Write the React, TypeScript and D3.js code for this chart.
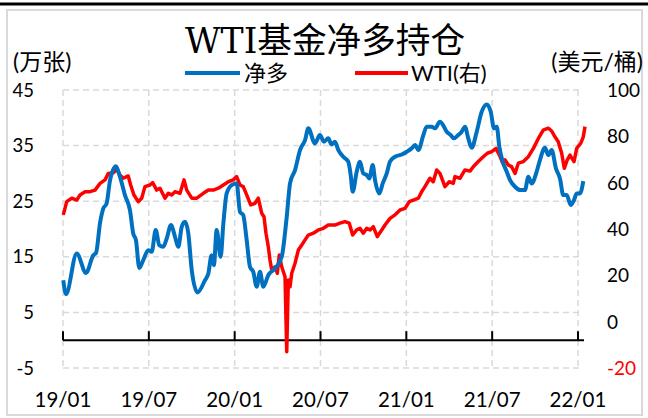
import React from "react";
import * as d3 from "d3";

// x values are months since 2019-01 (0 = 19/01, 36 = 22/01)
const tickLabels = ["19/01", "19/07", "20/01", "20/07", "21/01", "21/07", "22/01"];
const tickMonths = [0, 6, 12, 18, 24, 30, 36];

const netLongT = [0.02,0.21,0.96,1.61,2.12,2.31,2.59,2.82,3.05,3.29,3.7,3.98,4.33,4.68,4.91,5.1,5.33,5.61,5.96,6.2,6.48,6.73,7.01,7.25,7.55,7.83,8.06,8.3,8.53,8.76,9.0,9.4,9.93,10.16,10.39,10.55,10.74,11.02,11.21,11.44,11.79,12.14,12.37,12.6,12.84,13.07,13.3,13.54,13.77,14.0,14.35,14.82,15.29,15.64,15.87,16.22,16.57,16.92,17.15,17.61,17.96,18.24,18.54,18.78,19.01,19.25,19.59,19.94,20.11,20.25,20.53,20.76,20.99,21.23,21.41,21.65,21.81,22.11,22.35,22.63,22.86,23.21,23.68,24.03,24.37,24.61,24.84,25.19,25.42,25.77,26.0,26.35,26.63,26.82,27.1,27.33,27.63,27.87,28.1,28.33,28.57,28.92,29.27,29.62,29.9,30.13,30.32,30.5,30.74,31.02,31.25,31.6,31.95,32.29,32.53,32.76,33.11,33.34,33.69,33.92,34.16,34.46,34.74,34.97,35.21,35.49,35.72,35.91,36.14,36.37];
const netLong = [10.8,8.3,15.6,12.1,15.3,15.7,21.1,23.7,24.6,28.8,31.3,29.4,26.1,23.4,19.2,18.0,13.0,14.4,16.2,15.9,19.8,17.1,16.8,18.3,20.7,18.6,16.8,20.4,21.3,19.2,12.6,8.6,10.8,12.0,15.3,13.5,19.8,15.0,21.0,26.4,27.9,28.2,23.1,22.5,18.0,13.2,12.3,9.6,12.3,9.6,11.7,12.9,15.0,22.2,28.2,30.6,34.2,36.0,38.1,35.4,36.9,35.7,36.3,35.2,35.7,34.2,33.0,32.1,29.7,26.7,30.3,32.1,30.0,29.7,29.1,31.5,28.8,26.4,28.2,30.0,32.1,33.0,33.4,33.9,34.5,35.1,34.2,36.9,38.4,38.4,38.1,39.3,38.4,37.5,36.9,36.3,36.9,37.5,38.4,36.3,34.6,37.5,41.1,42.4,41.1,38.1,38.4,34.8,32.1,30.3,28.8,27.6,27.0,27.0,29.4,28.2,30.3,32.4,34.6,33.3,34.2,30.9,29.1,26.1,26.1,24.3,25.2,26.4,26.4,28.6];

const wtiT = [0.02,0.26,0.61,0.96,1.19,1.54,1.89,2.24,2.59,2.94,3.17,3.52,3.75,3.98,4.21,4.56,4.73,4.96,5.26,5.5,5.73,6.08,6.27,6.55,6.78,7.13,7.36,7.6,7.83,8.18,8.46,8.65,9.0,9.35,9.81,10.16,10.51,10.86,11.21,11.56,11.9,12.14,12.37,12.6,12.84,13.12,13.42,13.65,13.89,14.05,14.19,14.35,14.47,14.59,14.82,14.98,15.12,15.29,15.52,15.64,15.75,15.87,15.99,16.22,16.45,16.69,16.92,17.15,17.5,17.85,18.2,18.54,19.01,19.36,19.71,20.01,20.25,20.53,20.76,20.99,21.23,21.46,21.69,21.97,22.28,22.51,22.86,23.21,23.56,23.91,24.21,24.49,24.84,25.07,25.3,25.65,25.88,26.12,26.35,26.7,27.0,27.28,27.4,27.75,28.1,28.45,28.68,29.03,29.38,29.66,29.97,30.27,30.5,30.74,30.9,31.13,31.36,31.6,31.83,32.18,32.53,32.88,33.23,33.57,33.92,34.16,34.39,34.62,34.86,35.04,35.25,35.44,35.72,35.91,36.19,36.37,36.49];
const wti = [46.1,51.8,53.3,52.5,54.7,56.1,56.1,56.8,59.7,61.2,64.0,64.3,65.8,63.3,61.9,62.9,59.0,54.7,51.8,53.3,58.3,59.0,60.0,56.8,57.6,53.3,55.4,54.7,56.1,55.4,61.2,56.8,53.3,53.3,55.4,56.8,56.8,57.6,59.0,60.4,61.2,62.6,59.0,58.3,54.7,50.4,51.1,53.3,46.8,45.3,38.2,32.4,26.6,22.3,23.7,20.9,28.8,23.7,19.4,-13.0,18.0,15.1,20.9,25.2,30.9,33.1,35.3,37.4,38.2,39.6,40.3,41.7,41.7,42.5,43.2,42.5,37.4,39.6,40.3,38.2,40.3,39.6,41.0,36.7,39.6,41.7,44.6,46.1,48.2,48.9,51.8,52.5,53.3,56.1,58.3,61.9,60.4,65.5,64.0,58.3,60.4,59.7,62.6,61.9,65.5,65.0,66.9,69.1,71.2,72.7,73.4,74.8,72.0,68.4,69.8,67.6,66.9,64.0,68.4,69.1,71.2,74.8,79.1,82.7,83.5,82.3,79.8,77.7,72.7,66.2,69.8,71.9,69.1,74.8,77.0,79.8,84.2];

const leftTicks = [45, 35, 25, 15, 5, -5];
const rightTicks = [100, 80, 60, 40, 20, 0, -20];

export default function App() {
  const width = 648;
  const height = 418;
  const x = d3.scaleLinear().domain([0, 36]).range([63, 578]);
  const yL = d3.scaleLinear().domain([-5, 45]).range([368, 90]);
  const yR = d3.scaleLinear().domain([-20, 100]).range([368, 90]);

  const blueLine = d3.line<number>()
    .x((_, i) => x(netLongT[i]))
    .y((d) => yL(d))
    .curve(d3.curveMonotoneX);
  const redLine = d3.line<number>()
    .x((_, i) => x(wtiT[i]))
    .y((d) => yR(d));

  const font = "Lato, 'Noto Sans CJK SC', sans-serif";
  const grid = "#D9D9D9";

  return (
    <svg width={width} height={height} style={{ position: "absolute", left: 0, top: 0, background: "#fff" }}>
      <rect x={7} y={10} width={635} height={405} fill="#fff" stroke="#D9D9D9" strokeWidth={2} />
      <line x1={0} y1={4} x2={648} y2={4} stroke="#000" strokeWidth={3} />

      <text x={325} y={53} textAnchor="middle" fontSize={35} textLength={280} lengthAdjust="spacingAndGlyphs"
        fontFamily="'DejaVu Serif', 'Noto Sans CJK SC', serif" fill="#000">WTI基金净多持仓</text>

      {/* legend */}
      <line x1={185} y1={73} x2={240} y2={73} stroke="#0070C0" strokeWidth={4} />
      <text x={244} y={81} fontSize={22} fontFamily={font} fill="#000">净多</text>
      <line x1={355} y1={73} x2={408} y2={73} stroke="#FF0000" strokeWidth={4} />
      <text x={411} y={81} fontSize={22} fontFamily={font} fill="#000">WTI(右)</text>

      <text x={13} y={70} fontSize={23} fontFamily={font} fill="#000">(万张)</text>
      <text x={643} y={70} fontSize={23} fontFamily={font} textAnchor="end" fill="#000">(美元/桶)</text>

      {/* gridlines */}
      {leftTicks.map((t) => (
        <line key={"h" + t} x1={63} x2={580} y1={yL(t)} y2={yL(t)} stroke={grid} strokeWidth={1.5} strokeDasharray="6,4" />
      ))}
      {tickMonths.map((m) => (
        <line key={"v" + m} x1={x(m)} x2={x(m)} y1={90} y2={368} stroke={grid} strokeWidth={1.5} strokeDasharray="6,4" />
      ))}

      {/* axis at zero */}
      <line x1={63} x2={584} y1={yL(0)} y2={yL(0)} stroke="#000" strokeWidth={2} />
      {tickMonths.map((m) => (
        <line key={"t" + m} x1={x(m)} x2={x(m)} y1={yL(0) - 9} y2={yL(0)} stroke="#000" strokeWidth={2} />
      ))}

      {/* axis labels */}
      {leftTicks.map((t) => (
        <text key={"l" + t} x={34} y={yL(t)} dy="0.36em" textAnchor="end" fontSize={18.5} fontFamily={font} fill="#000">{t}</text>
      ))}
      {rightTicks.map((t) => (
        <text key={"r" + t} x={607} y={yR(t)} dy="0.36em" fontSize={19} fontFamily={font} fill={t < 0 ? "#FF0000" : "#000"}>{t}</text>
      ))}
      {tickMonths.map((m, i) => (
        <text key={"x" + m} x={x(m)} y={407} textAnchor="middle" fontSize={20.5} fontFamily={font} fill="#000">{tickLabels[i]}</text>
      ))}

      <path d={redLine(wti) || ""} fill="none" stroke="#FF0000" strokeWidth={3.5} strokeLinejoin="round" />
      <path d={blueLine(netLong) || ""} fill="none" stroke="#0070C0" strokeWidth={4} strokeLinejoin="round" />
    </svg>
  );
}
